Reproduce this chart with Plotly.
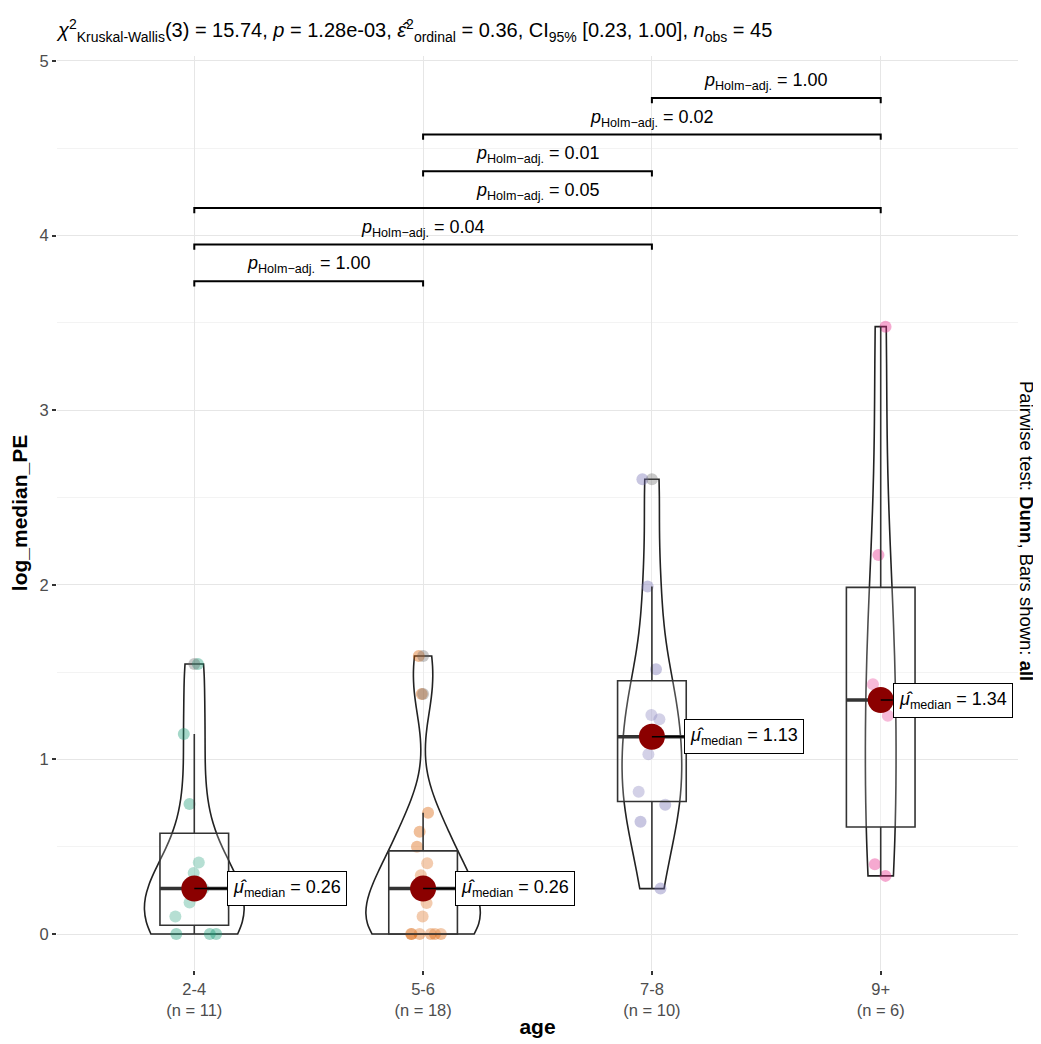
import numpy as np
import plotly.graph_objects as go

# ---------------- data ----------------
groups = ["2-4", "5-6", "7-8", "9+"]
vals_2_4 = [0.0, 0.0, 0.0, 0.10, 0.18, 0.26, 0.35, 0.41, 0.745, 1.145, 1.546]
vals_5_6 = [0.0, 0.0, 0.0, 0.0, 0.0, 0.0, 0.10, 0.177, 0.255, 0.265, 0.27, 0.337,
            0.405, 0.50, 0.586, 0.695, 1.375, 1.592]
vals_7_8 = [0.26, 0.643, 0.74, 0.815, 1.03, 1.23, 1.254, 1.516, 1.99, 2.604]
vals_9p = [0.333, 0.40, 1.25, 1.43, 2.17, 3.478]
group_values = [vals_2_4, vals_5_6, vals_7_8, vals_9p]

comp_group1 = ["2-4", "2-4", "2-4", "5-6", "5-6", "7-8"]
comp_group2 = ["5-6", "7-8", "9+", "7-8", "9+", "9+"]
comp_p_text = ["1.00", "0.04", "0.05", "0.01", "0.02", "1.00"]

y_ticks = [0, 1, 2, 3, 4, 5]

subtitle = ("<i>χ</i><sup>2</sup><sub>Kruskal-Wallis</sub>(3) = 15.74, <i>p</i> = 1.28e-03, "
            "<i>ε̂</i><sup>2</sup><sub>ordinal</sub> = 0.36, CI<sub>95%</sub> [0.23, 1.00], "
            "<i>n</i><sub>obs</sub> = 45")
caption = "Pairwise test: <b>Dunn</b>, Bars shown: <b>all</b>"

# ---------------- styles ----------------
colors = ["#1B9E77", "#D95F02", "#7570B3", "#E7298A"]
FONT = "Liberation Sans"
label_dx = [33, 32, 32, 12]
VIOLIN_WIDTH = 0.5


def nrd0(x):
    x = np.asarray(x, float)
    hi = np.std(x, ddof=1)
    q75, q25 = np.percentile(x, [75, 25])
    lo = min(hi, (q75 - q25) / 1.34)
    if lo == 0:
        lo = hi if hi > 0 else 1.0
    return 0.9 * lo * len(x) ** (-0.2)


def kde_max(x, bw):
    a = np.asarray(x, float)
    grid = np.linspace(a.min(), a.max(), 512)
    d = np.exp(-0.5 * ((grid[:, None] - a[None, :]) / bw) ** 2).sum(axis=1)
    d /= len(a) * bw * np.sqrt(2 * np.pi)
    return d.max()


def hex_rgba(h, a):
    h = h.lstrip("#")
    return "rgba(%d,%d,%d,%s)" % (int(h[0:2], 16), int(h[2:4], 16), int(h[4:6], 16), a)


bws = [nrd0(v) for v in group_values]
kmax = [kde_max(v, b) for v, b in zip(group_values, bws)]
kmax_all = max(kmax)

fig = go.Figure()

# violins (area-scaled like ggplot) with jittered points
for g, v, c, bw, km in zip(groups, group_values, colors, bws, kmax):
    fig.add_trace(go.Violin(
        x=[g] * len(v), y=v, name=g,
        points="all", pointpos=0, jitter=0.6,
        marker=dict(color=hex_rgba(c, 0.4), size=12, line=dict(width=0)),
        line=dict(color="#222222", width=1.6),
        fillcolor="rgba(255,255,255,0.2)",
        spanmode="hard", bandwidth=bw,
        width=VIOLIN_WIDTH * km / kmax_all, scalegroup="sg_" + g, scalemode="width",
        box_visible=False, meanline_visible=False,
        hoverinfo="skip", showlegend=False,
    ))

# box statistics (R type-7 quartiles, Tukey whiskers)
q1s, meds, q3s, lows, highs, out_x, out_y = [], [], [], [], [], [], []
for g, v in zip(groups, group_values):
    a = np.asarray(v, float)
    q1, med, q3 = np.percentile(a, [25, 50, 75])
    iqr = q3 - q1
    inside = a[(a >= q1 - 1.5 * iqr) & (a <= q3 + 1.5 * iqr)]
    q1s.append(q1); meds.append(med); q3s.append(q3)
    lows.append(inside.min()); highs.append(inside.max())
    for o in a[(a < q1 - 1.5 * iqr) | (a > q3 + 1.5 * iqr)]:
        out_x.append(g); out_y.append(o)

fig.add_trace(go.Box(
    x=groups, q1=q1s, median=meds, q3=q3s, lowerfence=lows, upperfence=highs,
    width=0.3, whiskerwidth=0, line=dict(color="#333333", width=1.6),
    fillcolor="rgba(255,255,255,0.2)", boxpoints=False,
    hoverinfo="skip", showlegend=False,
))
# thicker median line
fig.add_trace(go.Box(
    x=groups, q1=meds, median=meds, q3=meds, lowerfence=meds, upperfence=meds,
    width=0.3, whiskerwidth=0, line=dict(color="#333333", width=3.5),
    fillcolor="rgba(0,0,0,0)", boxpoints=False,
    hoverinfo="skip", showlegend=False,
))
# outliers
fig.add_trace(go.Scatter(
    x=out_x, y=out_y, mode="markers",
    marker=dict(color="rgba(100,100,100,0.35)", size=12, line=dict(width=0)),
    hoverinfo="skip", showlegend=False,
))
# median points
fig.add_trace(go.Scatter(
    x=groups, y=meds, mode="markers",
    marker=dict(color="#8B0000", size=26, line=dict(width=0)),
    hoverinfo="skip", showlegend=False,
))

annotations = []
for i, (g, m) in enumerate(zip(groups, meds)):
    annotations.append(dict(
        x=g, y=m, xref="x", yref="y",
        text="<i>μ̂</i><sub>median</sub> = %.2f" % m,
        showarrow=True, arrowhead=0, arrowwidth=1.5, arrowcolor="#000000",
        ax=label_dx[i], ay=0, xanchor="left", yanchor="middle",
        bgcolor="white", bordercolor="#000000", borderwidth=1, borderpad=5,
        font=dict(family=FONT, size=18, color="#000000"),
    ))

# significance brackets
ymax = max(max(v) for v in group_values)
start = ymax + 0.26
step = 0.21
tip = 0.03
for i, (g1, g2, p) in enumerate(zip(comp_group1, comp_group2, comp_p_text)):
    lvl = start + i * step
    fig.add_trace(go.Scatter(
        x=[g1, g1, g2, g2], y=[lvl - tip, lvl, lvl, lvl - tip],
        mode="lines", line=dict(color="#000000", width=2),
        hoverinfo="skip", showlegend=False,
    ))
    i1, i2 = groups.index(g1), groups.index(g2)
    annotations.append(dict(
        x=(i1 + i2) / 2, y=lvl, xref="x", yref="y",
        text="<i>p</i><sub>Holm−adj.</sub> = " + p,
        showarrow=False, xanchor="center", yanchor="bottom", yshift=3,
        font=dict(family=FONT, size=18, color="#000000"),
    ))

# subtitle and caption
annotations.append(dict(
    x=0, y=1, xref="paper", yref="paper", xanchor="left", yanchor="middle",
    xshift=-3, yshift=26, text=subtitle, showarrow=False,
    font=dict(family=FONT, size=20, color="#000000"),
))
annotations.append(dict(
    x=1, y=0.5, xref="paper", yref="paper", xanchor="center", yanchor="middle",
    xshift=9, yshift=-18, text=caption, textangle=90, showarrow=False,
    font=dict(family=FONT, size=18.5, color="#000000"),
))

tick_text = ["%s<br>(n = %d)" % (g, len(v)) for g, v in zip(groups, group_values)]

# page body has an 8px margin: figure is sized so the panel lands where the reference has it
fig.update_layout(
    width=1033, height=1030,
    margin=dict(l=49, r=23, t=48, b=68),
    plot_bgcolor="white", paper_bgcolor="white",
    font=dict(family=FONT, color="#000000"),
    violinmode="overlay", boxmode="overlay",
    showlegend=False,
    annotations=annotations,
    xaxis=dict(
        type="category", categoryorder="array", categoryarray=groups,
        range=[-0.6, 3.6], tickvals=groups, ticktext=tick_text,
        showgrid=True, gridcolor="#E6E6E6", gridwidth=1.2, zeroline=False,
        ticks="outside", ticklen=4, tickwidth=1.5, tickcolor="#333333",
        tickfont=dict(family=FONT, size=16.5, color="#4D4D4D"),
        title=dict(text="<b>age</b>", font=dict(family=FONT, size=21, color="#000000"), standoff=4),
        showline=False, automargin=False,
    ),
    yaxis=dict(
        range=[-0.206, 5.028], tickvals=y_ticks,
        showgrid=True, gridcolor="#E6E6E6", gridwidth=1.2, zeroline=False,
        ticks="outside", ticklen=4, tickwidth=1.5, tickcolor="#333333",
        tickfont=dict(family=FONT, size=16.5, color="#4D4D4D"),
        minor=dict(tick0=0, dtick=0.5, showgrid=True, gridcolor="#F3F3F3", gridwidth=1, ticks=""),
        title=dict(text="<b>log_median_PE</b>", font=dict(family=FONT, size=21, color="#000000"), standoff=6),
        showline=False, automargin=False,
    ),
)

fig.write_html("out.html")
